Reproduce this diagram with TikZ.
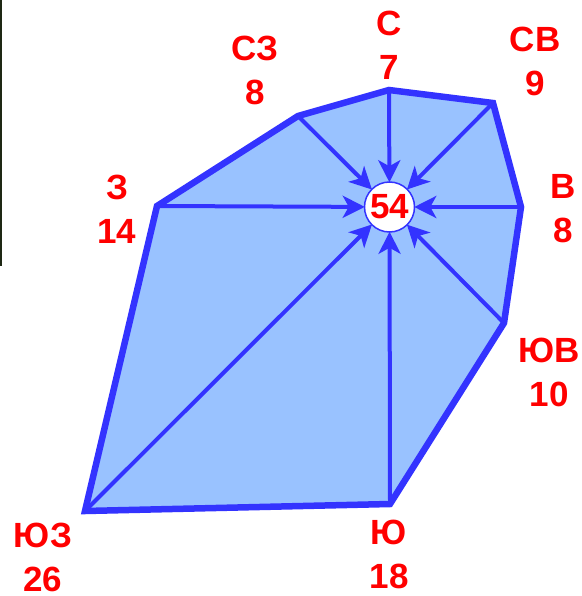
\documentclass[tikz,border=0pt]{standalone}
\usepackage{fontspec}
\setmainfont{Liberation Sans}
\usetikzlibrary{arrows.meta}
\definecolor{rblue}{RGB}{51,51,255}
\definecolor{rfill}{RGB}{153,194,255}
\definecolor{rred}{RGB}{255,0,0}
\definecolor{rdark}{RGB}{30,40,20}
\tikzset{
  lbl/.style={text=rred,font=\fontsize{35}{42}\selectfont\bfseries,align=center,inner sep=0pt},
  ray/.style={rblue,line width=4pt,-{Stealth[length=22pt,width=22pt,inset=6pt]},shorten >=-1pt},
}
\begin{document}
\begin{tikzpicture}[x=1pt,y=-1pt]
\useasboundingbox (0,0) rectangle (581,596);
\fill[rdark] (0,0) rectangle (2,266);
\coordinate (N) at (389,90);
\coordinate (NE) at (493,103);
\coordinate (E) at (521,207);
\coordinate (SE) at (504,323);
\coordinate (S) at (390,504);
\coordinate (SW) at (85,511);
\coordinate (W) at (157,206);
\coordinate (NW) at (298,116);
\fill[rfill] (N)--(NE)--(E)--(SE)--(S)--(SW)--(W)--(NW)--cycle;
\node[circle,draw=rblue,fill=white,line width=1.5pt,minimum size=50pt,inner sep=0pt] (c) at (389.5,207) {};
\foreach \v in {N,NE,E,SE,S,SW,W,NW}{\draw[ray] (\v) -- (c);}
\draw[rblue,line width=6.5pt,line join=miter] (N)--(NE)--(E)--(SE)--(S)--(SW)--(W)--(NW)--cycle;
\node[lbl] (t54) at (c) {54};
\node[lbl] (lN) at (389,45) {С\\[2pt]7};
\node[lbl] (lNE) at (535,61) {СВ\\[2pt]9};
\node[lbl] (lNW) at (255,70) {СЗ\\[2pt]8};
\node[lbl] (lW) at (117,209) {З\\[2pt]14};
\node[lbl] (lE) at (563,209) {В\\[2pt]8};
\node[lbl] (lSE) at (549,372) {ЮВ\\[2pt]10};
\node[lbl] (lS) at (389,554) {Ю\\[2pt]18};
\node[lbl] (lSW) at (43,557) {ЮЗ\\[2pt]26};
\end{tikzpicture}
\end{document}
